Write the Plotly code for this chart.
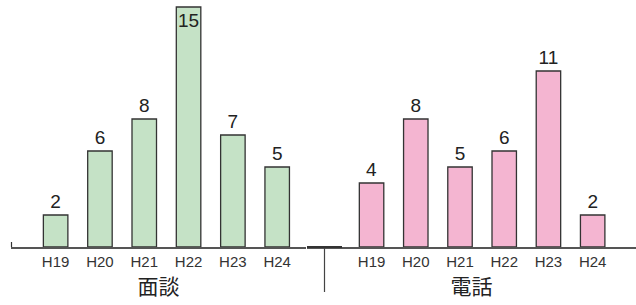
import plotly.graph_objects as go

years = ["H19", "H20", "H21", "H22", "H23", "H24"]
mendan = [2, 6, 8, 15, 7, 5]
denwa = [4, 8, 5, 6, 11, 2]
group_titles = ["面談", "電話"]

W, H = 636, 305
fig = go.Figure()

ymax = 247 / 16.0

def positions(vals):
    return ["inside" if v >= ymax - 1 else "outside" for v in vals]

numfont = dict(family="Liberation Sans, Arial", size=19, color="#222222")

fig.add_trace(go.Bar(
    x=years, y=mendan, xaxis="x", yaxis="y",
    marker=dict(color="#c5e2c6", line=dict(color="#333333", width=1.3)),
    text=[str(v) for v in mendan], textposition=positions(mendan),
    insidetextanchor="end", constraintext="none", cliponaxis=False, textangle=0,
    textfont=numfont, insidetextfont=numfont, outsidetextfont=numfont,
    showlegend=False,
))
fig.add_trace(go.Bar(
    x=years, y=denwa, xaxis="x2", yaxis="y2",
    marker=dict(color="#f4b5d1", line=dict(color="#333333", width=1.3)),
    text=[str(v) for v in denwa], textposition=positions(denwa),
    insidetextanchor="end", constraintext="none", cliponaxis=False, textangle=0,
    textfont=numfont, insidetextfont=numfont, outsidetextfont=numfont,
    showlegend=False,
))

tickfont = dict(family="Liberation Sans, Arial, sans-serif", size=15, color="#333333")
titlefont = dict(family="Noto Sans CJK JP", size=21, color="#222222")

xcommon = dict(type="category", showgrid=False, zeroline=False, ticks="",
               showline=True, linecolor="#555555", linewidth=1.5,
               tickfont=tickfont, fixedrange=True, automargin=False)

fig.update_layout(
    width=W, height=H,
    margin=dict(l=0, r=0, t=0, b=58),
    paper_bgcolor="white", plot_bgcolor="white",
    bargap=0.447,
    xaxis=dict(domain=[11 / W, 306 / W], anchor="y",
               range=[-1.007, 5.65],
               title=dict(text=group_titles[0], font=titlefont, standoff=8),
               **xcommon),
    xaxis2=dict(domain=[307 / W, 1.0], anchor="y2",
                range=[-1.46, 5.98],
                title=dict(text=group_titles[1], font=titlefont, standoff=8),
                **xcommon),
    yaxis=dict(domain=[0, 1], range=[0, ymax], visible=False, fixedrange=True),
    yaxis2=dict(domain=[0, 1], range=[0, ymax], visible=False, fixedrange=True, anchor="x2"),
    shapes=[
        dict(type="line", xref="paper", yref="paper",
             x0=324.5 / W, x1=324.5 / W, y0=0, y1=-45 / 247,
             line=dict(color="#444444", width=1.2)),
        dict(type="line", xref="paper", yref="paper",
             x0=307 / W, x1=342 / W, y0=0, y1=0,
             line=dict(color="#333333", width=1.8)),
        dict(type="line", xref="paper", yref="paper",
             x0=11.5 / W, x1=11.5 / W, y0=0, y1=5 / 247,
             line=dict(color="#333333", width=1.2)),
    ],
)

fig.write_html("out.html",
               config={"displayModeBar": False},
               post_script="document.body.style.margin='0';document.body.style.overflow='hidden';")
